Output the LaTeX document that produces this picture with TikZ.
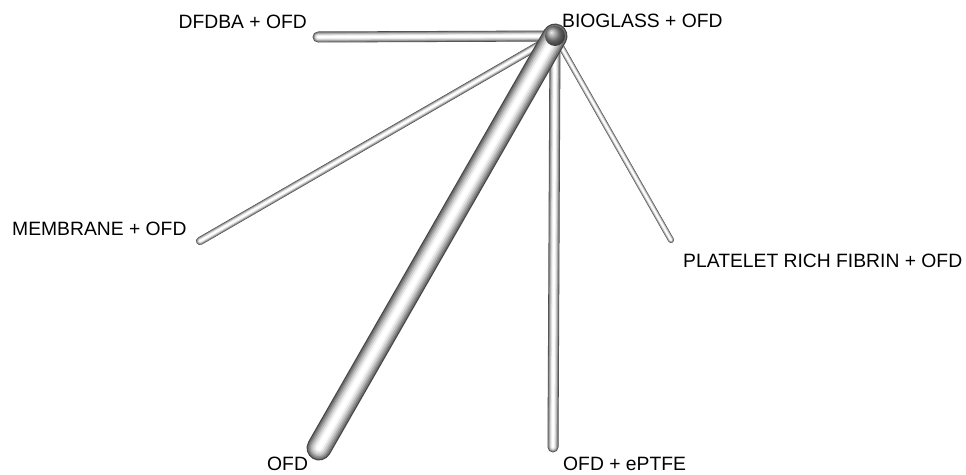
\documentclass[tikz,border=0pt]{standalone}
\usepackage{fontspec}
\setmainfont{Liberation Sans}
\newcommand{\mytube}[3]{%
  \foreach \f/\c in {1/black!72, 0.9/black!55, 0.78/black!42, 0.66/black!30, 0.54/black!19, 0.4/black!9, 0.26/black!2, 0.14/white}{%
    \draw[line cap=round, line width={\f*#3 pt}, color=\c] (#1) -- (#2);}%
}
\tikzset{lbl/.style={inner sep=0pt, font=\fontsize{19.3}{22}\selectfont}}
\begin{document}
\begin{tikzpicture}[x=1pt,y=-1pt]
\useasboundingbox (0,0) rectangle (966,474);
\coordinate (hub) at (555,36);
\coordinate (dfdba) at (318,37);
\coordinate (memb) at (200,241);
\coordinate (prf) at (671,240);
\coordinate (ofd) at (319,448);
\coordinate (eptfe) at (553,447);
\mytube{hub}{prf}{6}
\mytube{hub}{memb}{8}
\mytube{hub}{dfdba}{11}
\mytube{hub}{eptfe}{11}
\mytube{hub}{ofd}{25}
\shade[ball color=black!45] (hub) circle (10);
\node[lbl, anchor=base west] (tbio) at (562,27) {BIOGLASS + OFD};
\node[lbl, anchor=base east] (tdf) at (307,28) {DFDBA + OFD};
\node[lbl, anchor=base west] (tmem) at (12,235) {MEMBRANE + OFD};
\node[lbl, anchor=base west] (tprf) at (683,267) {PLATELET RICH FIBRIN + OFD};
\node[lbl, anchor=base west] (tofd) at (267,470) {OFD};
\node[lbl, anchor=base west] (tep) at (563,470) {OFD + ePTFE};
\end{tikzpicture}
\end{document}
